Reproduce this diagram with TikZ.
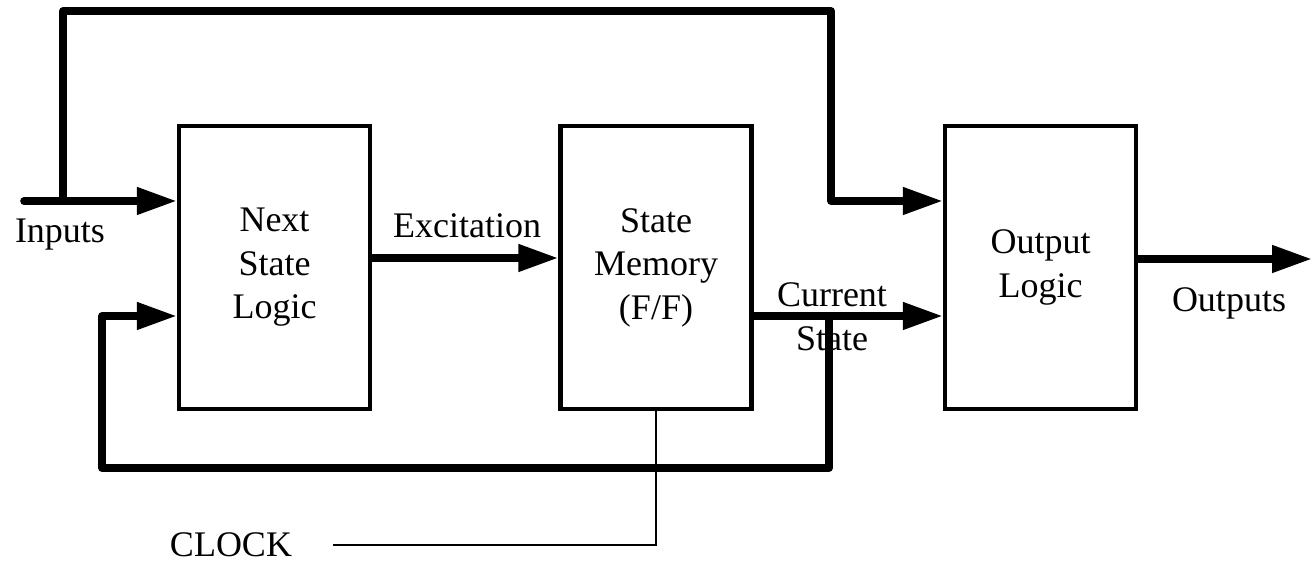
\documentclass[tikz,border=0pt]{standalone}
\usepackage{fontspec}
\setmainfont{Liberation Serif}
\usetikzlibrary{arrows.meta}
\begin{document}
\begin{tikzpicture}[x=0.5pt,y=-0.5pt,
  blk/.style={draw, line width=2.2pt, minimum width=95.5pt, minimum height=141.5pt, inner sep=0pt, align=center, font=\fontsize{18}{21.75}\selectfont},
  bus/.style={line width=3.8pt, line join=round, line cap=round},
  arr/.style={bus, -{Triangle[length=20pt,width=13pt]}},
  lbl/.style={font=\fontsize{18}{21.75}\selectfont, anchor=base, inner sep=0pt},
  clk/.style={line width=0.6pt}]
\useasboundingbox (0,0) rectangle (1312,565);
% blocks
\node[blk] (B1) at (274.5,267.5) {Next\\State\\Logic};
\node[blk] (B2) at (656,267.5) {State\\Memory\\(F/F)};
\node[blk] (B3) at (1040.5,267.5) {Output\\Logic};
% helper coordinates
\coordinate (inStart) at (24,201);
\coordinate (tap) at (63,201);
\coordinate (topR) at (831,11);
\coordinate (excY) at (0,258);
\coordinate (csY) at (0,316);
\coordinate (csTap) at (829,316);
\coordinate (fbBot) at (102,468);
\coordinate (outEnd) at (1312,259);
\coordinate (clkEnd) at (333,545);
% connectors
\draw[arr] (inStart) -- (B1.west |- inStart);
\draw[arr] (tap) |- (topR) |- (B3.west |- inStart);
\draw[arr] (B1.east |- excY) -- (B2.west |- excY);
\draw[arr] (B2.east |- csY) -- (B3.west |- csY);
\draw[arr] (csTap) |- (fbBot) |- (B1.west |- csY);
\draw[arr] (B3.east |- outEnd) -- (outEnd);
\draw[clk] (B2.south) |- (clkEnd);
% labels
\node[lbl] (lin) at (60,243) {Inputs};
\node[lbl] (lexc) at (467,238) {Excitation};
\node[lbl] (lcur) at (832,307) {Current};
\node[lbl] (lst) at (832,351) {State};
\node[lbl] (lout) at (1229,312) {Outputs};
\node[lbl] (lclk) at (231,557) {CLOCK};
\end{tikzpicture}
\end{document}
